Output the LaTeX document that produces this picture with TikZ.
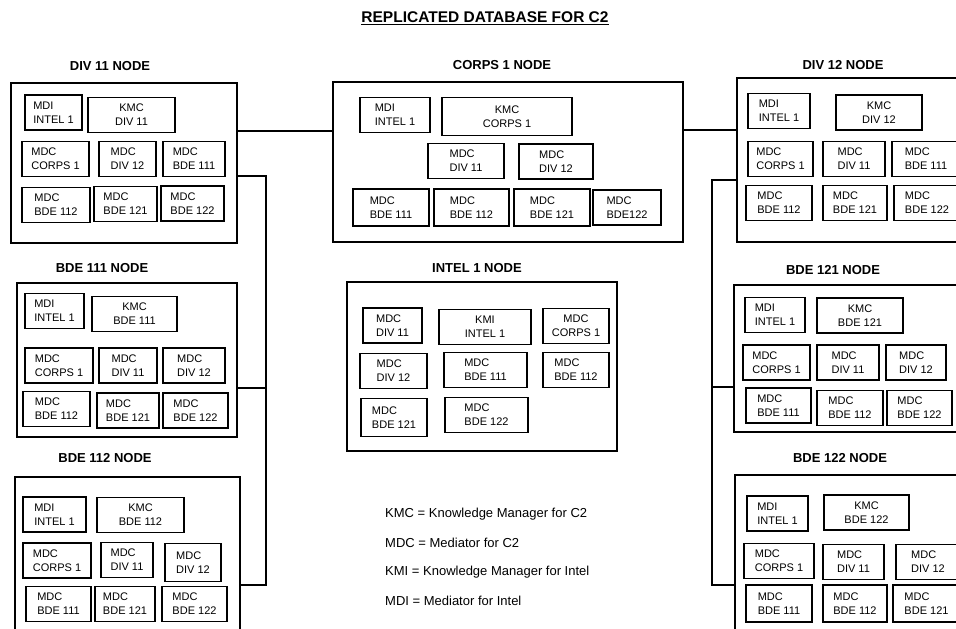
\documentclass[tikz,border=0pt]{standalone}
\usepackage{fontspec}
\setmainfont{Liberation Sans}
\usetikzlibrary{positioning}

\tikzset{
    site/.style={draw, line width=1.6pt, inner sep=0pt},
    cell/.style={draw, line width=1.1pt, inner sep=2pt, align=left, minimum height=35,
        font=\fontsize{11}{14}\selectfont},
    kcell/.style={cell, align=center},
    head/.style={font=\fontsize{13}{15}\selectfont\bfseries},
    legend/.style={anchor=west, inner sep=0pt, font=\fontsize{13}{15}\selectfont},
    wire/.style={line width=1.7pt}
}

\begin{document}
\begin{tikzpicture}[x=1pt, y=-1pt]
    \useasboundingbox (0, 0) rectangle (956, 629);

    \node[font=\fontsize{15.5}{17}\selectfont\bfseries] (title) at (485, 18) {\underline{REPLICATED DATABASE FOR C2}};

    % DIV 11 node
    \node[head] (div11t) at (110, 66) {DIV 11 NODE};
    \node[site, minimum width=226, minimum height=160] (div11) at (124, 163) {};
    \node[cell, minimum width=57] (div11a) at (53.5, 112.5) {MDI\\INTEL 1};
    \node[kcell, minimum width=87] (div11b) at (131.5, 115) {KMC\\DIV 11};
    \node[cell, minimum width=67] (div11c) at (55.5, 159) {MDC\\CORPS 1};
    \node[cell, minimum width=57] (div11d) at (127.5, 159) {MDC\\DIV 12};
    \node[cell, minimum width=62] (div11e) at (194, 159) {MDC\\BDE 111};
    \node[cell, minimum width=68] (div11f) at (56, 205) {MDC\\BDE 112};
    \node[cell, minimum width=63] (div11g) at (125.5, 204) {MDC\\BDE 121};
    \node[cell, minimum width=63] (div11h) at (192.5, 203.5) {MDC\\BDE 122};

    % BDE 111 node
    \node[head] (bde111t) at (102, 268) {BDE 111 NODE};
    \node[site, minimum width=220, minimum height=154] (bde111) at (127, 360) {};
    \node[cell, minimum width=59] (bde111a) at (54.5, 311) {MDI\\INTEL 1};
    \node[kcell, minimum width=85] (bde111b) at (134.5, 314) {KMC\\BDE 111};
    \node[cell, minimum width=68] (bde111c) at (59, 365.5) {MDC\\CORPS 1};
    \node[cell, minimum width=58] (bde111d) at (128, 365.5) {MDC\\DIV 11};
    \node[cell, minimum width=62] (bde111e) at (194, 365.5) {MDC\\DIV 12};
    \node[cell, minimum width=67] (bde111f) at (56.5, 409) {MDC\\BDE 112};
    \node[cell, minimum width=62] (bde111g) at (128, 410.5) {MDC\\BDE 121};
    \node[cell, minimum width=65] (bde111h) at (195.5, 410.5) {MDC\\BDE 122};

    % BDE 112 node
    \node[head] (bde112t) at (105, 458) {BDE 112 NODE};
    \node[site, minimum width=225, minimum height=163] (bde112) at (127.5, 558.5) {};
    \node[cell, minimum width=63] (bde112a) at (54.5, 514.5) {MDI\\INTEL 1};
    \node[kcell, minimum width=87] (bde112b) at (140.5, 515) {KMC\\BDE 112};
    \node[cell, minimum width=68] (bde112c) at (57, 560.5) {MDC\\CORPS 1};
    \node[cell, minimum width=52] (bde112d) at (127, 560) {MDC\\DIV 11};
    \node[cell, minimum width=56, minimum height=38] (bde112e) at (193, 562.5) {MDC\\DIV 12};
    \node[cell, minimum width=65] (bde112f) at (58.5, 604) {MDC\\BDE 111};
    \node[cell, minimum width=60] (bde112g) at (125, 604) {MDC\\BDE 121};
    \node[cell, minimum width=65] (bde112h) at (194.5, 604) {MDC\\BDE 122};

    % CORPS 1 node
    \node[head] (corpst) at (502, 65) {CORPS 1 NODE};
    \node[site, minimum width=350, minimum height=160] (corps) at (508, 162) {};
    \node[cell, minimum width=70] (corpsa) at (395, 115) {MDI\\INTEL 1};
    \node[kcell, minimum width=130, minimum height=38] (corpsb) at (507, 116.5) {KMC\\CORPS 1};
    \node[cell, minimum width=76] (corpsc) at (466, 161) {MDC\\DIV 11};
    \node[cell, minimum width=74] (corpsd) at (556, 161.5) {MDC\\DIV 12};
    \node[cell, minimum width=76, minimum height=37] (corpse) at (391, 207.5) {MDC\\BDE 111};
    \node[cell, minimum width=75, minimum height=37] (corpsf) at (471.5, 207.5) {MDC\\BDE 112};
    \node[cell, minimum width=76, minimum height=37] (corpsg) at (552, 207.5) {MDC\\BDE 121};
    \node[cell, minimum width=68] (corpsh) at (627, 207.5) {MDC\\BDE122};

    % INTEL 1 node
    \node[head] (intelt) at (477, 268) {INTEL 1 NODE};
    \node[site, minimum width=270, minimum height=169] (intel) at (482, 366.5) {};
    \node[cell, minimum width=59] (intela) at (392.5, 325.5) {MDC\\DIV 11};
    \node[kcell, minimum width=92] (intelb) at (485, 327) {KMI\\INTEL 1};
    \node[kcell, minimum width=66] (intelc) at (576, 326) {MDC\\CORPS 1};
    \node[cell, minimum width=67] (inteld) at (393.5, 371) {MDC\\DIV 12};
    \node[cell, minimum width=83] (intele) at (485.5, 370) {MDC\\BDE 111};
    \node[cell, minimum width=66] (intelf) at (576, 370) {MDC\\BDE 112};
    \node[cell, minimum width=66, minimum height=38] (intelg) at (394, 417.5) {MDC\\BDE 121};
    \node[cell, minimum width=83] (intelh) at (486.5, 415) {MDC\\BDE 122};

    % DIV 12 node
    \node[head] (div12t) at (843, 65) {DIV 12 NODE};
    \node[site, minimum width=228, minimum height=164] (div12) at (851, 160) {};
    \node[cell, minimum width=62] (div12a) at (779, 111) {MDI\\INTEL 1};
    \node[kcell, minimum width=86] (div12b) at (879, 112.5) {KMC\\DIV 12};
    \node[cell, minimum width=65] (div12c) at (780.5, 159) {MDC\\CORPS 1};
    \node[cell, minimum width=62] (div12d) at (854, 159) {MDC\\DIV 11};
    \node[cell, minimum width=68] (div12e) at (926, 159) {MDC\\BDE 111};
    \node[cell, minimum width=66] (div12f) at (779, 203) {MDC\\BDE 112};
    \node[cell, minimum width=64] (div12g) at (855, 203) {MDC\\BDE 121};
    \node[cell, minimum width=66] (div12h) at (927, 203) {MDC\\BDE 122};

    % BDE 121 node
    \node[head] (bde121t) at (833, 270) {BDE 121 NODE};
    \node[site, minimum width=231, minimum height=147] (bde121) at (849.5, 358.5) {};
    \node[cell, minimum width=60] (bde121a) at (775, 315) {MDI\\INTEL 1};
    \node[kcell, minimum width=86] (bde121b) at (860, 315.5) {KMC\\BDE 121};
    \node[cell, minimum width=67] (bde121c) at (776.5, 362.5) {MDC\\CORPS 1};
    \node[cell, minimum width=62] (bde121d) at (848, 362.5) {MDC\\DIV 11};
    \node[cell, minimum width=60] (bde121e) at (916, 362.5) {MDC\\DIV 12};
    \node[cell, minimum width=65] (bde121f) at (778.5, 405.5) {MDC\\BDE 111};
    \node[cell, minimum width=66] (bde121g) at (850, 408) {MDC\\BDE 112};
    \node[cell, minimum width=65] (bde121h) at (919.5, 408) {MDC\\BDE 122};

    % BDE 122 node
    \node[head] (bde122t) at (840, 458) {BDE 122 NODE};
    \node[site, minimum width=230, minimum height=165] (bde122) at (850, 557.5) {};
    \node[cell, minimum width=61] (bde122a) at (777.5, 513.5) {MDI\\INTEL 1};
    \node[kcell, minimum width=85] (bde122b) at (866.5, 512.5) {KMC\\BDE 122};
    \node[cell, minimum width=70] (bde122c) at (779, 561) {MDC\\CORPS 1};
    \node[cell, minimum width=61] (bde122d) at (853.5, 562) {MDC\\DIV 11};
    \node[cell, minimum width=64] (bde122e) at (928, 562) {MDC\\DIV 12};
    \node[cell, minimum width=66, minimum height=37] (bde122f) at (779, 603.5) {MDC\\BDE 111};
    \node[cell, minimum width=64, minimum height=37] (bde122g) at (855, 603.5) {MDC\\BDE 112};
    \node[cell, minimum width=67, minimum height=37] (bde122h) at (926.5, 603.5) {MDC\\BDE 121};

    % legend
    \node[legend] (leg1) at (385, 514) {KMC = Knowledge Manager for C2};
    \node[legend] (leg2) at (385, 543) {MDC = Mediator for C2};
    \node[legend] (leg3) at (385, 572) {KMI = Knowledge Manager for Intel};
    \node[legend] (leg4) at (385, 601) {MDI = Mediator for Intel};

    % links between the nodes
    \coordinate (lbus) at (266, 0);
    \coordinate (rbus) at (712, 0);
    \coordinate (a1) at ([yshift=32]div11.east);
    \coordinate (a2) at ([yshift=32]corps.east);
    \coordinate (b1) at ([yshift=-13]div11.east);
    \coordinate (b2) at ([yshift=-28]bde111.east);
    \coordinate (b3) at ([yshift=-26.5]bde112.east);
    \coordinate (c1) at ([yshift=-20]div12.west);
    \coordinate (c2) at ([yshift=-28.5]bde121.west);
    \coordinate (c3) at ([yshift=-27.5]bde122.west);

    \draw[wire] (a1) -- (a1 -| corps.west);
    \draw[wire] (a2) -- (a2 -| div12.west);
    \draw[wire] (b1) -| (lbus |- b3) -- (b3);
    \draw[wire] (b2) -- (b2 -| lbus);
    \draw[wire] (c1) -| (rbus |- c3) -- (c3);
    \draw[wire] (c2) -- (c2 -| rbus);
\end{tikzpicture}
\end{document}
